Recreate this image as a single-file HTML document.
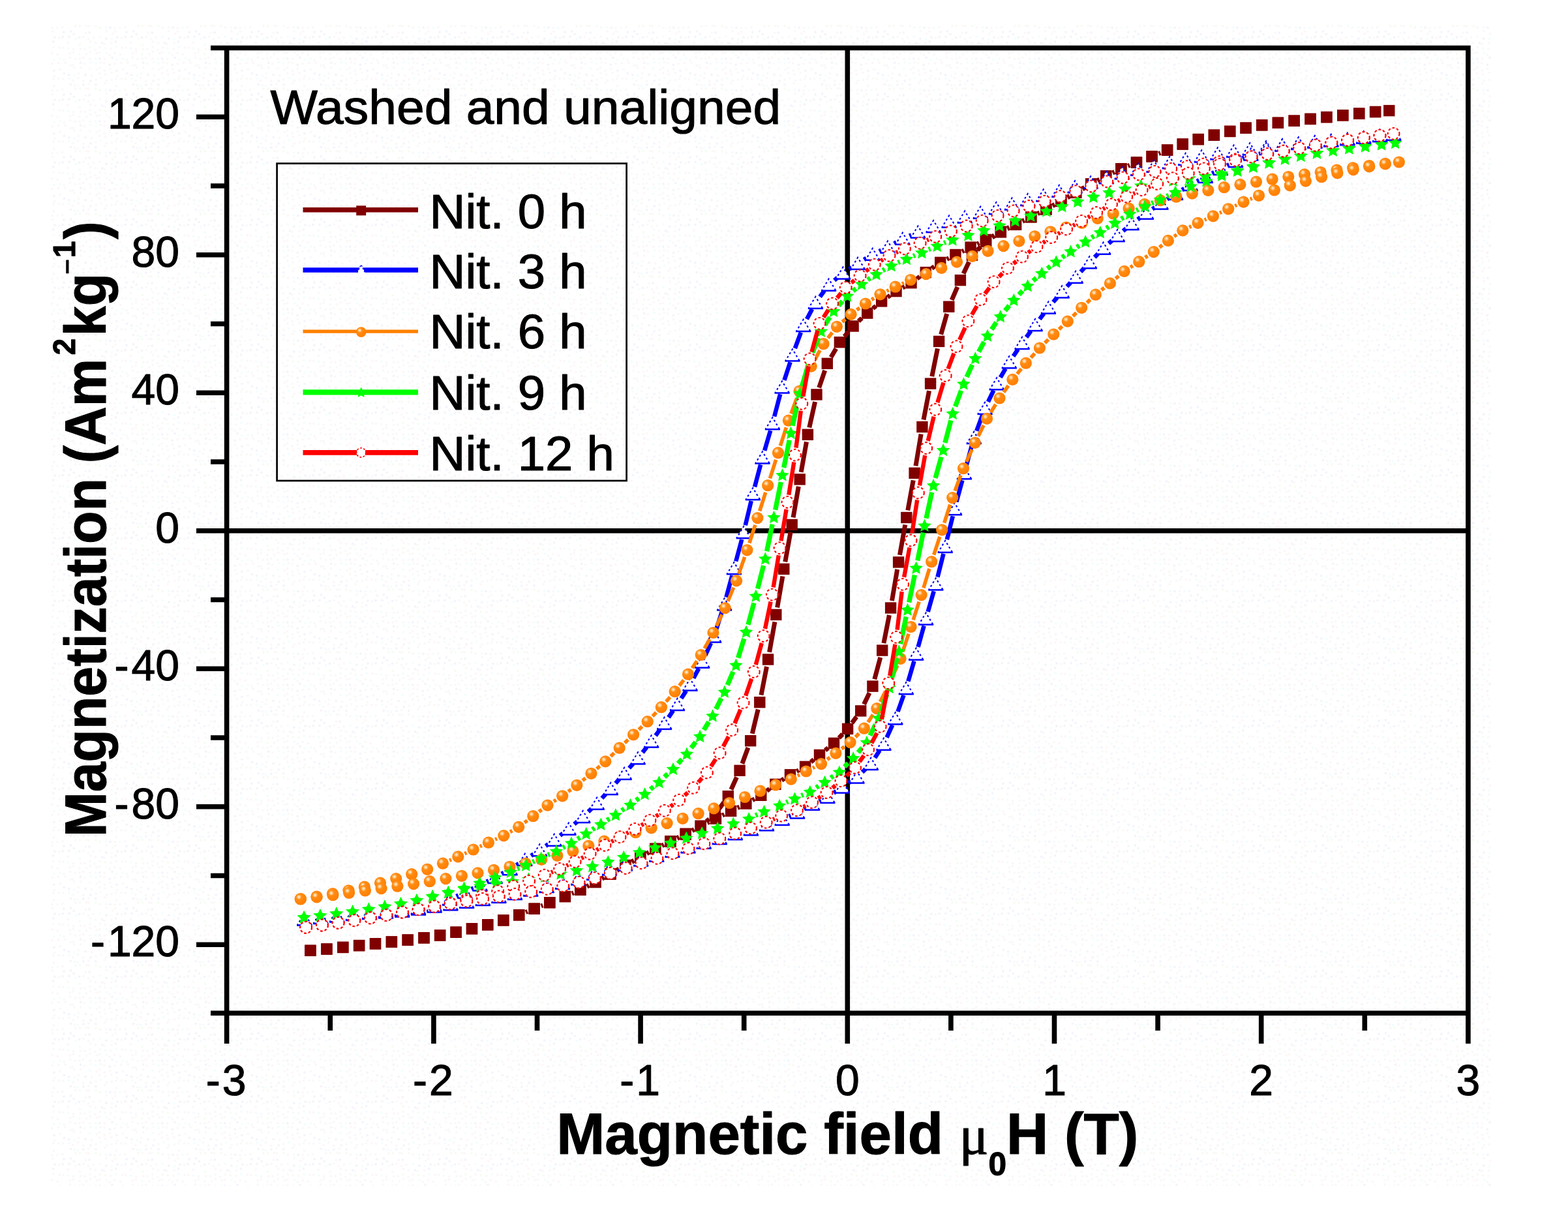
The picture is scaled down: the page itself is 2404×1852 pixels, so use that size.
<!DOCTYPE html>
<html lang="en"><head><meta charset="utf-8"><title>Washed and unaligned - magnetization hysteresis</title>
<style>html,body{margin:0;padding:0;background:#fff}body{width:2404px;height:1852px;overflow:hidden}svg{display:block}text{font-family:"Liberation Sans",sans-serif;fill:#000;stroke:#000;stroke-width:1.1px;stroke-linejoin:round}#plot{filter:blur(0.7px)}.b{font-weight:bold}.sy{font-family:"Liberation Serif",serif;font-weight:normal}</style></head><body>
<svg width="2404" height="1852" viewBox="0 0 2404 1852">
<defs>
<pattern id="dither" x="78" y="38" width="96" height="96" patternUnits="userSpaceOnUse"><g opacity=".3"><circle cx="2.2" cy="4.8" r="1.9" fill="#f0e6e6"/><circle cx="9.9" cy="4.4" r="1.9" fill="#d6f7f7"/><circle cx="17.8" cy="3.6" r="1.9" fill="#f0e6e6"/><circle cx="37.7" cy="2.0" r="1.9" fill="#f0e6e6"/><circle cx="44.4" cy="1.7" r="1.9" fill="#d9f9d0"/><circle cx="54.5" cy="1.6" r="1.9" fill="#f0e6e6"/><circle cx="58.2" cy="2.0" r="1.9" fill="#f0e6e6"/><circle cx="68.9" cy="1.9" r="1.9" fill="#d9f9d0"/><circle cx="75.3" cy="4.2" r="1.9" fill="#f0e6e6"/><circle cx="84.6" cy="4.0" r="1.9" fill="#d6f7f7"/><circle cx="91.0" cy="4.4" r="1.9" fill="#d9d9f5"/><circle cx="2.7" cy="10.3" r="1.9" fill="#f0e6e6"/><circle cx="20.0" cy="11.2" r="1.9" fill="#d9d9f5"/><circle cx="30.5" cy="10.0" r="1.9" fill="#d9d9f5"/><circle cx="35.2" cy="14.3" r="1.9" fill="#d9d9f5"/><circle cx="53.4" cy="12.4" r="1.9" fill="#f0e6e6"/><circle cx="59.2" cy="12.0" r="1.9" fill="#d9d9f5"/><circle cx="85.0" cy="9.7" r="1.9" fill="#f0e6e6"/><circle cx="94.6" cy="13.7" r="1.9" fill="#f0e6e6"/><circle cx="6.0" cy="19.2" r="1.9" fill="#d9d9f5"/><circle cx="12.6" cy="20.0" r="1.9" fill="#f0e6e6"/><circle cx="18.1" cy="18.7" r="1.9" fill="#d9d9f5"/><circle cx="28.0" cy="18.3" r="1.9" fill="#d9d9f5"/><circle cx="38.0" cy="21.7" r="1.9" fill="#d6f7f7"/><circle cx="43.6" cy="19.3" r="1.9" fill="#d9d9f5"/><circle cx="50.2" cy="18.3" r="1.9" fill="#f0e6e6"/><circle cx="57.5" cy="21.7" r="1.9" fill="#f0e6e6"/><circle cx="65.4" cy="19.6" r="1.9" fill="#f0e6e6"/><circle cx="75.1" cy="18.1" r="1.9" fill="#d6f7f7"/><circle cx="84.8" cy="21.2" r="1.9" fill="#d9d9f5"/><circle cx="93.5" cy="21.9" r="1.9" fill="#d6f7f7"/><circle cx="3.5" cy="25.9" r="1.9" fill="#d9d9f5"/><circle cx="26.2" cy="27.2" r="1.9" fill="#f0e6e6"/><circle cx="44.2" cy="30.3" r="1.9" fill="#d9f9d0"/><circle cx="60.6" cy="26.2" r="1.9" fill="#f0e6e6"/><circle cx="68.5" cy="27.9" r="1.9" fill="#f0e6e6"/><circle cx="78.6" cy="27.8" r="1.9" fill="#d9d9f5"/><circle cx="82.1" cy="29.3" r="1.9" fill="#f0e6e6"/><circle cx="93.0" cy="28.1" r="1.9" fill="#f0e6e6"/><circle cx="4.1" cy="34.2" r="1.9" fill="#d6f7f7"/><circle cx="13.3" cy="35.0" r="1.9" fill="#f0e6e6"/><circle cx="18.8" cy="35.3" r="1.9" fill="#f0e6e6"/><circle cx="26.6" cy="36.2" r="1.9" fill="#d6f7f7"/><circle cx="34.6" cy="37.6" r="1.9" fill="#f0e6e6"/><circle cx="45.7" cy="37.2" r="1.9" fill="#f0e6e6"/><circle cx="52.0" cy="37.2" r="1.9" fill="#f0e6e6"/><circle cx="59.9" cy="34.4" r="1.9" fill="#d9f9d0"/><circle cx="67.7" cy="38.3" r="1.9" fill="#f0e6e6"/><circle cx="75.3" cy="34.5" r="1.9" fill="#f0e6e6"/><circle cx="83.2" cy="35.9" r="1.9" fill="#d9f9d0"/><circle cx="91.9" cy="36.8" r="1.9" fill="#f0e6e6"/><circle cx="2.0" cy="43.4" r="1.9" fill="#f0e6e6"/><circle cx="10.3" cy="45.5" r="1.9" fill="#f0e6e6"/><circle cx="29.2" cy="43.8" r="1.9" fill="#f0e6e6"/><circle cx="34.3" cy="42.1" r="1.9" fill="#f0e6e6"/><circle cx="43.8" cy="44.8" r="1.9" fill="#d9f9d0"/><circle cx="54.5" cy="44.8" r="1.9" fill="#f0e6e6"/><circle cx="60.3" cy="41.5" r="1.9" fill="#f0e6e6"/><circle cx="70.3" cy="43.7" r="1.9" fill="#f0e6e6"/><circle cx="74.5" cy="42.7" r="1.9" fill="#f0e6e6"/><circle cx="85.4" cy="43.1" r="1.9" fill="#d6f7f7"/><circle cx="90.1" cy="46.1" r="1.9" fill="#f0e6e6"/><circle cx="4.8" cy="53.6" r="1.9" fill="#d6f7f7"/><circle cx="14.2" cy="52.0" r="1.9" fill="#d6f7f7"/><circle cx="20.1" cy="53.9" r="1.9" fill="#f0e6e6"/><circle cx="29.4" cy="50.2" r="1.9" fill="#f0e6e6"/><circle cx="37.2" cy="52.3" r="1.9" fill="#f0e6e6"/><circle cx="44.2" cy="51.9" r="1.9" fill="#f0e6e6"/><circle cx="49.7" cy="50.4" r="1.9" fill="#f0e6e6"/><circle cx="60.0" cy="52.3" r="1.9" fill="#f0e6e6"/><circle cx="68.6" cy="52.0" r="1.9" fill="#d6f7f7"/><circle cx="74.8" cy="52.0" r="1.9" fill="#d9d9f5"/><circle cx="82.7" cy="52.1" r="1.9" fill="#f0e6e6"/><circle cx="94.0" cy="50.5" r="1.9" fill="#d9d9f5"/><circle cx="2.0" cy="59.7" r="1.9" fill="#f0e6e6"/><circle cx="11.6" cy="58.5" r="1.9" fill="#f0e6e6"/><circle cx="22.1" cy="58.2" r="1.9" fill="#f0e6e6"/><circle cx="30.0" cy="62.4" r="1.9" fill="#f0e6e6"/><circle cx="33.9" cy="62.0" r="1.9" fill="#f0e6e6"/><circle cx="45.7" cy="58.2" r="1.9" fill="#d9d9f5"/><circle cx="51.5" cy="59.6" r="1.9" fill="#f0e6e6"/><circle cx="61.2" cy="57.5" r="1.9" fill="#d6f7f7"/><circle cx="69.1" cy="59.4" r="1.9" fill="#d6f7f7"/><circle cx="76.1" cy="57.7" r="1.9" fill="#f0e6e6"/><circle cx="81.9" cy="58.8" r="1.9" fill="#f0e6e6"/><circle cx="90.3" cy="61.3" r="1.9" fill="#d9d9f5"/><circle cx="4.9" cy="70.3" r="1.9" fill="#d9d9f5"/><circle cx="14.2" cy="68.4" r="1.9" fill="#f0e6e6"/><circle cx="35.6" cy="65.8" r="1.9" fill="#f0e6e6"/><circle cx="45.6" cy="65.8" r="1.9" fill="#f0e6e6"/><circle cx="59.8" cy="67.2" r="1.9" fill="#d6f7f7"/><circle cx="70.2" cy="68.6" r="1.9" fill="#f0e6e6"/><circle cx="74.6" cy="66.0" r="1.9" fill="#f0e6e6"/><circle cx="82.3" cy="70.2" r="1.9" fill="#f0e6e6"/><circle cx="90.5" cy="67.7" r="1.9" fill="#f0e6e6"/><circle cx="5.6" cy="78.6" r="1.9" fill="#f0e6e6"/><circle cx="20.3" cy="74.4" r="1.9" fill="#d9d9f5"/><circle cx="27.7" cy="76.8" r="1.9" fill="#d9d9f5"/><circle cx="36.2" cy="78.0" r="1.9" fill="#d6f7f7"/><circle cx="42.5" cy="74.6" r="1.9" fill="#f0e6e6"/><circle cx="53.1" cy="76.7" r="1.9" fill="#d9d9f5"/><circle cx="62.5" cy="77.8" r="1.9" fill="#f0e6e6"/><circle cx="74.7" cy="74.2" r="1.9" fill="#f0e6e6"/><circle cx="83.4" cy="76.0" r="1.9" fill="#f0e6e6"/><circle cx="93.0" cy="73.6" r="1.9" fill="#f0e6e6"/><circle cx="3.7" cy="82.8" r="1.9" fill="#f0e6e6"/><circle cx="12.2" cy="82.7" r="1.9" fill="#f0e6e6"/><circle cx="18.4" cy="83.1" r="1.9" fill="#f0e6e6"/><circle cx="28.0" cy="82.4" r="1.9" fill="#d6f7f7"/><circle cx="33.9" cy="85.6" r="1.9" fill="#f0e6e6"/><circle cx="41.6" cy="81.5" r="1.9" fill="#f0e6e6"/><circle cx="49.8" cy="86.4" r="1.9" fill="#f0e6e6"/><circle cx="61.1" cy="86.0" r="1.9" fill="#d9d9f5"/><circle cx="69.1" cy="84.0" r="1.9" fill="#f0e6e6"/><circle cx="76.7" cy="81.6" r="1.9" fill="#d6f7f7"/><circle cx="85.2" cy="85.6" r="1.9" fill="#f0e6e6"/><circle cx="93.3" cy="84.4" r="1.9" fill="#f0e6e6"/><circle cx="4.4" cy="94.0" r="1.9" fill="#f0e6e6"/><circle cx="30.4" cy="91.4" r="1.9" fill="#d9d9f5"/><circle cx="36.7" cy="92.7" r="1.9" fill="#f0e6e6"/><circle cx="41.4" cy="93.5" r="1.9" fill="#d6f7f7"/><circle cx="49.9" cy="92.1" r="1.9" fill="#d9d9f5"/><circle cx="57.8" cy="90.8" r="1.9" fill="#f0e6e6"/><circle cx="68.8" cy="91.8" r="1.9" fill="#d9d9f5"/><circle cx="82.9" cy="89.6" r="1.9" fill="#f0e6e6"/></g></pattern>
<radialGradient id="gball" cx="0.36" cy="0.33" r="0.6" fx="0.36" fy="0.33"><stop offset="0" stop-color="#fff3e2"/><stop offset="0.14" stop-color="#ffd49c"/><stop offset="0.38" stop-color="#ff8c14"/><stop offset="1" stop-color="#ff8000"/></radialGradient>
<rect id="m-sq" x="-8.7" y="-8.7" width="17.4" height="17.4" fill="#800000"/>
<g id="m-tri"><polygon points="0,-9.6 11.4,9.2 -11.4,9.2" fill="#fff"/><path d="M-10.6 8.4L0 -9.2L10.6 8.4" fill="none" stroke="#0000ff" stroke-width="2.1" stroke-dasharray="3 3.6" stroke-dashoffset="1.5"/><path d="M-11.6 8.9H11.6" stroke="#0000ff" stroke-width="2.5" fill="none"/></g>
<circle id="m-ball" r="9.1" fill="url(#gball)"/>
<polygon id="m-star" points="0,-10 3.1,-3.4 10.3,-2.5 4.9,2.4 6.3,9.5 0,6 -6.3,9.5 -4.9,2.4 -10.3,-2.5 -3.1,-3.4" fill="#00ff00"/>
<circle id="m-circ" r="8.9" fill="#fff" stroke="#ff0000" stroke-width="2.1" stroke-dasharray="3.6 3.0"/>
</defs>
<rect x="0" y="0" width="2404" height="1852" fill="#fff"/>
<rect x="78" y="38" width="2208" height="1780" fill="url(#dither)"/>
<g id="plot">
<g id="axes" stroke="#000" stroke-width="7.6" fill="none" stroke-linecap="butt">
<path d="M323 73.5H2254.7000000000003 M323 1553.2H2254.7000000000003 M347.6 69.7V1600 M2250.9 69.7V1600"/>
<path d="M347.6 813.8H2250.9 M1299.3 73.5V1553.2"/>
<path d="M301 1448.3H347.6M323 1342.5H347.6M301 1236.8H347.6M323 1131H347.6M301 1025.3H347.6M323 919.5H347.6M301 813.8H347.6M323 708H347.6M301 602.3H347.6M323 496.5H347.6M301 390.8H347.6M323 285H347.6M301 179.3H347.6M506.3 1553.2V1580M664.9 1553.2V1600M823.5 1553.2V1580M982.1 1553.2V1600M1140.7 1553.2V1580M1299.3 1553.2V1600M1457.9 1553.2V1580M1616.5 1553.2V1600M1775.1 1553.2V1580M1933.7 1553.2V1600M2092.3 1553.2V1580"/>
</g>
<g id="ylabels" font-size="66" text-anchor="end">
<text x="275" y="1466.3" dx="0 4">-120</text>
<text x="275" y="1254.8" dx="0 4">-80</text>
<text x="275" y="1043.3" dx="0 4">-40</text>
<text x="275" y="831.8">0</text>
<text x="275" y="620.3">40</text>
<text x="275" y="408.8">80</text>
<text x="275" y="197.3">120</text>
</g>
<g id="xlabels" font-size="66" text-anchor="middle">
<text x="346.7" y="1679" dx="0 3">-3</text>
<text x="663.9" y="1679" dx="0 3">-2</text>
<text x="981.1" y="1679" dx="0 3">-1</text>
<text x="1299.3" y="1679">0</text>
<text x="1616.5" y="1679">1</text>
<text x="1933.7" y="1679">2</text>
<text x="2250.9" y="1679">3</text>
</g>
<text id="xtitle" class="b" transform="translate(853.3 1769) scale(0.9934 1)" font-size="89.5">Magnetic field <tspan class="sy" font-size="84">μ</tspan><tspan font-size="50" dy="33">0</tspan><tspan dy="-33">H (T)</tspan></text>
<text id="ytitle" class="b" font-size="88.5" transform="translate(161.8 1283) rotate(-90) scale(0.932 1)">Magnetization (Am<tspan font-size="49" dy="-46.5" dx="6">2</tspan><tspan dy="46.5" dx="4">kg</tspan><tspan font-size="44" dy="-44" dx="-2" style="font-weight:normal">−</tspan><tspan font-size="49" dy="-2.5" dx="2">1</tspan><tspan dy="46.5" dx="3">)</tspan></text>
<text id="caption" transform="translate(414.5 190.3) scale(1.024 1)" font-size="75">Washed and unaligned</text>
<g id="data">
<g id="s0">
<path d="M1779.3 234.4L1776.5 235.6M1732.1 253.3L1729.3 254.5M1708.9 263.6L1705.8 265.1M1685.8 275.3L1682.5 277.1M1663 287.9L1659.5 289.9M1640.1 301L1636.6 302.9M1617.1 313.8L1613.7 315.6M1593.9 326.1L1590.7 327.7M1570.8 337.8L1567.6 339.4M1547.6 349.4L1544.4 350.9M1524.4 360.9L1521.3 362.4M1501.2 372.5L1498.1 374.1M1478 384.1L1474.9 385.6M1454.9 395.6L1451.7 397.3M1432.5 408.7L1428.5 411.3M1410.2 424.2L1406 427.1M1387.2 439.2L1383.8 441.1M1364.8 452.9L1360.8 455.6M1343 469.1L1338.3 472.9M1321.4 487.7L1316.3 492.4M1300.9 508.6L1294.6 516.1M1281.8 534.4L1274 547.7M1264.7 567.9L1255.7 594.3M1249.6 615.9L1240.8 655.4M1236.5 677.3L1228.2 723.9M1224.3 745.9L1216.1 793.4M1212.1 815.5L1203.8 861.4M1199.9 883.5L1191.7 931.4M1187.9 953.4L1179.6 999.9M1175.5 1022L1167 1065.7M1162.2 1087.6L1153.3 1124.8M1146.9 1146.2L1137.9 1170.8M1129.5 1191.5L1120.9 1210.5M1109.8 1229.9L1102.8 1239.8M1087.5 1255.8L1083 1259.3M1064.5 1271.8L1061 1273.8M1041.2 1284.1L1038.2 1285.5M1017.9 1295L1014.9 1296.5M995 1306.7L991.6 1308.6M972.1 1319.6L968.6 1321.6M949.2 1332.7L945.8 1334.7M926.2 1345.5L922.9 1347.3M903 1357.6L899.8 1359.2M879.6 1368.7L876.7 1370M832.4 1387.9L829.6 1389M808.8 1397.4L806 1398.6M806 1398.6L808.8 1397.4M829.6 1389L832.4 1387.9M876.7 1370L879.6 1368.7M899.8 1359L903 1357.4M922.7 1346.9L926.1 1345M945.6 1334L949.1 1332M968.5 1321L971.9 1319.1M991.6 1308.4L994.9 1306.7M1014.8 1296.4L1017.9 1294.8M1037.9 1284.7L1041.1 1283.2M1061.1 1273.2L1064.3 1271.7M1084.3 1261.7L1087.5 1260.1M1107.5 1250.1L1110.6 1248.5M1130.7 1238.5L1133.8 1237M1153.6 1226.7L1157 1224.8M1175.7 1212.5L1180 1209.2M1198.4 1196.3L1202.1 1193.9M1221.4 1182.5L1224.7 1180.7M1243.2 1168.3L1247.8 1164.5M1265.2 1150.3L1269.8 1146.5M1286.2 1131.4L1291.9 1125.5M1306.2 1108.4L1313.1 1099M1324.6 1079.8L1333 1062.2M1340.8 1041.3L1349.8 1007.9M1354.9 986.1L1363.4 943M1367.5 921L1375.7 872.9M1379.5 850.8L1387.8 804.5M1391.8 782.4L1400.2 736.4M1404 714.3L1412.1 665.5M1416 643.5L1424.5 599.1M1428.8 577.1L1437.4 534.4M1442.7 512.7L1451.7 481M1459.2 459.9L1467.9 439.9M1477.1 419.5L1485.6 401.4M1498.4 383.4L1503.8 378.3M1521.1 364.2L1525 361.5M1544.2 350.1L1547.4 348.5M1567.6 338.7L1570.6 337.4M1590.7 327.6L1593.9 326M1613.6 315.4L1617.1 313.4M1636.5 302.2L1639.9 300.3M1659.4 289.2L1662.8 287.4M1682.5 276.7L1685.8 275M1705.8 265L1708.8 263.5M1729.3 254.5L1732.1 253.3M1776.5 235.6L1779.3 234.4" stroke="#800000" stroke-width="7.0" fill="none"/>
<use href="#m-sq" x="2129.8" y="169.6"/><use href="#m-sq" x="2108.6" y="171.5"/><use href="#m-sq" x="2083.7" y="174.1"/><use href="#m-sq" x="2058.8" y="176.8"/><use href="#m-sq" x="2033.9" y="179.6"/><use href="#m-sq" x="2009.1" y="182.4"/><use href="#m-sq" x="1984.2" y="185.2"/><use href="#m-sq" x="1959.4" y="188.3"/><use href="#m-sq" x="1934.7" y="191.8"/><use href="#m-sq" x="1910.1" y="196.2"/><use href="#m-sq" x="1885.7" y="201.4"/><use href="#m-sq" x="1861.4" y="207.2"/><use href="#m-sq" x="1837.3" y="213.6"/><use href="#m-sq" x="1813.3" y="221"/><use href="#m-sq" x="1789.6" y="230.1"/><use href="#m-sq" x="1766.1" y="239.9"/><use href="#m-sq" x="1742.5" y="249.1"/><use href="#m-sq" x="1718.9" y="258.7"/><use href="#m-sq" x="1695.7" y="270"/><use href="#m-sq" x="1672.7" y="282.4"/><use href="#m-sq" x="1649.8" y="295.4"/><use href="#m-sq" x="1626.9" y="308.5"/><use href="#m-sq" x="1603.9" y="321"/><use href="#m-sq" x="1580.8" y="332.8"/><use href="#m-sq" x="1557.6" y="344.4"/><use href="#m-sq" x="1534.4" y="355.9"/><use href="#m-sq" x="1511.2" y="367.4"/><use href="#m-sq" x="1488.1" y="379.1"/><use href="#m-sq" x="1464.9" y="390.5"/><use href="#m-sq" x="1441.7" y="402.4"/><use href="#m-sq" x="1419.3" y="417.6"/><use href="#m-sq" x="1397" y="433.7"/><use href="#m-sq" x="1374" y="446.6"/><use href="#m-sq" x="1351.6" y="461.9"/><use href="#m-sq" x="1329.7" y="480.1"/><use href="#m-sq" x="1308.1" y="500"/><use href="#m-sq" x="1287.4" y="524.7"/><use href="#m-sq" x="1268.3" y="557.3"/><use href="#m-sq" x="1252" y="604.9"/><use href="#m-sq" x="1238.4" y="666.3"/><use href="#m-sq" x="1226.2" y="734.9"/><use href="#m-sq" x="1214.2" y="804.5"/><use href="#m-sq" x="1201.8" y="872.4"/><use href="#m-sq" x="1189.8" y="942.4"/><use href="#m-sq" x="1177.6" y="1011"/><use href="#m-sq" x="1164.8" y="1076.7"/><use href="#m-sq" x="1150.7" y="1135.7"/><use href="#m-sq" x="1134.1" y="1181.3"/><use href="#m-sq" x="1116.3" y="1220.7"/><use href="#m-sq" x="1096.3" y="1248.9"/><use href="#m-sq" x="1074.2" y="1266.2"/><use href="#m-sq" x="1051.3" y="1279.4"/><use href="#m-sq" x="1028" y="1290.2"/><use href="#m-sq" x="1004.7" y="1301.2"/><use href="#m-sq" x="981.8" y="1314.1"/><use href="#m-sq" x="958.9" y="1327.2"/><use href="#m-sq" x="936" y="1340.2"/><use href="#m-sq" x="913" y="1352.6"/><use href="#m-sq" x="889.8" y="1364.2"/><use href="#m-sq" x="866.4" y="1374.5"/><use href="#m-sq" x="842.8" y="1383.7"/><use href="#m-sq" x="819.2" y="1393.2"/><use href="#m-sq" x="795.7" y="1402.8"/><use href="#m-sq" x="771.8" y="1410.9"/><use href="#m-sq" x="747.7" y="1417.8"/><use href="#m-sq" x="723.5" y="1423.8"/><use href="#m-sq" x="699.1" y="1429.2"/><use href="#m-sq" x="674.6" y="1434"/><use href="#m-sq" x="650" y="1437.8"/><use href="#m-sq" x="625.2" y="1441.1"/><use href="#m-sq" x="600.4" y="1444"/><use href="#m-sq" x="575.5" y="1446.8"/><use href="#m-sq" x="550.6" y="1449.6"/><use href="#m-sq" x="525.8" y="1452.4"/><use href="#m-sq" x="500.9" y="1455"/><use href="#m-sq" x="475.9" y="1457.3"/><use href="#m-sq" x="475.9" y="1457.3"/><use href="#m-sq" x="500.9" y="1455"/><use href="#m-sq" x="525.8" y="1452.4"/><use href="#m-sq" x="550.6" y="1449.6"/><use href="#m-sq" x="575.5" y="1446.8"/><use href="#m-sq" x="600.4" y="1444"/><use href="#m-sq" x="625.2" y="1441.1"/><use href="#m-sq" x="650" y="1437.8"/><use href="#m-sq" x="674.6" y="1434"/><use href="#m-sq" x="699.1" y="1429.2"/><use href="#m-sq" x="723.5" y="1423.8"/><use href="#m-sq" x="747.7" y="1417.8"/><use href="#m-sq" x="771.8" y="1410.9"/><use href="#m-sq" x="795.7" y="1402.8"/><use href="#m-sq" x="819.2" y="1393.2"/><use href="#m-sq" x="842.8" y="1383.7"/><use href="#m-sq" x="866.4" y="1374.5"/><use href="#m-sq" x="889.8" y="1364.2"/><use href="#m-sq" x="912.9" y="1352.3"/><use href="#m-sq" x="935.9" y="1339.6"/><use href="#m-sq" x="958.8" y="1326.5"/><use href="#m-sq" x="981.7" y="1313.6"/><use href="#m-sq" x="1004.8" y="1301.4"/><use href="#m-sq" x="1027.9" y="1289.7"/><use href="#m-sq" x="1051.1" y="1278.2"/><use href="#m-sq" x="1074.3" y="1266.7"/><use href="#m-sq" x="1097.5" y="1255.1"/><use href="#m-sq" x="1120.6" y="1243.4"/><use href="#m-sq" x="1143.9" y="1232.1"/><use href="#m-sq" x="1166.8" y="1219.3"/><use href="#m-sq" x="1188.9" y="1202.4"/><use href="#m-sq" x="1211.5" y="1187.8"/><use href="#m-sq" x="1234.6" y="1175.4"/><use href="#m-sq" x="1256.5" y="1157.5"/><use href="#m-sq" x="1278.5" y="1139.4"/><use href="#m-sq" x="1299.6" y="1117.4"/><use href="#m-sq" x="1319.7" y="1089.9"/><use href="#m-sq" x="1337.9" y="1052.1"/><use href="#m-sq" x="1352.7" y="997.1"/><use href="#m-sq" x="1365.6" y="932"/><use href="#m-sq" x="1377.6" y="861.9"/><use href="#m-sq" x="1389.8" y="793.5"/><use href="#m-sq" x="1402.1" y="725.3"/><use href="#m-sq" x="1413.9" y="654.5"/><use href="#m-sq" x="1426.6" y="588.1"/><use href="#m-sq" x="1439.6" y="523.4"/><use href="#m-sq" x="1454.8" y="470.2"/><use href="#m-sq" x="1472.4" y="429.6"/><use href="#m-sq" x="1490.4" y="391.2"/><use href="#m-sq" x="1511.8" y="370.5"/><use href="#m-sq" x="1534.3" y="355.2"/><use href="#m-sq" x="1557.4" y="343.4"/><use href="#m-sq" x="1580.8" y="332.7"/><use href="#m-sq" x="1603.9" y="321"/><use href="#m-sq" x="1626.8" y="307.8"/><use href="#m-sq" x="1649.6" y="294.7"/><use href="#m-sq" x="1672.6" y="281.9"/><use href="#m-sq" x="1695.7" y="269.8"/><use href="#m-sq" x="1718.9" y="258.7"/><use href="#m-sq" x="1742.5" y="249.1"/><use href="#m-sq" x="1766.1" y="239.9"/><use href="#m-sq" x="1789.6" y="230.1"/><use href="#m-sq" x="1813.3" y="221"/><use href="#m-sq" x="1837.3" y="213.6"/><use href="#m-sq" x="1861.4" y="207.2"/><use href="#m-sq" x="1885.7" y="201.4"/><use href="#m-sq" x="1910.1" y="196.2"/><use href="#m-sq" x="1934.7" y="191.8"/><use href="#m-sq" x="1959.4" y="188.3"/><use href="#m-sq" x="1984.2" y="185.2"/><use href="#m-sq" x="2009.1" y="182.4"/><use href="#m-sq" x="2033.9" y="179.6"/><use href="#m-sq" x="2058.8" y="176.8"/><use href="#m-sq" x="2083.7" y="174.1"/><use href="#m-sq" x="2108.6" y="171.5"/>
</g>
<g id="s3">
<path d="M1397.1 360.2L1394.2 361.5M1374.2 371.4L1370.8 373.3M1350.9 383.6L1347.9 385.1M1328.2 395.8L1324.6 398.1M1305.7 410.1L1301.9 412.5M1283.9 425.8L1279.2 429.7M1263.9 445.8L1257.1 455M1245.1 473.9L1237 489.2M1227.9 509.6L1218.9 534M1211.6 555.1L1202.5 582.9M1196.2 604.4L1187.2 638.5M1181.2 660.1L1172.2 690.8M1166.1 712.4L1157.1 746.4M1151.7 768.1L1142.8 805.3M1137.3 827L1128.3 860.5M1122.5 882.2L1113.5 915.7M1107.1 937.1L1098.1 965M1090 985.9L1081.4 1004.7M1071.4 1024.7L1063.3 1039.8M1052 1059.1L1044.5 1070.7M1032.1 1089.3L1025 1099.8M1012.1 1118.1L1005.1 1127.7M991.6 1145.5L985.1 1153.6M970.7 1170.8L964.6 1177.6M949.7 1194.3L943.8 1200.9M928.7 1217.4L922.8 1223.7M907.1 1239.6L901.9 1244.5M885.2 1259.5L880.4 1263.6M863 1277.7L858.7 1281M840.6 1294.2L836.6 1297M818 1309.5L814.2 1312M795.3 1324.1L791.6 1326.4M772.3 1337.8L769 1339.7M749.1 1350.1L746 1351.6M725.9 1361.5L722.8 1363.1M702.6 1372.6L699.6 1374M1209.5 1251.4L1212.4 1250.2M1232.4 1240.2L1235.8 1238.3M1255.7 1228.1L1258.7 1226.7M1278.2 1215.7L1282.1 1213M1300.7 1200.5L1304.6 1197.8M1322 1183.9L1327.2 1178.9M1341.4 1161.7L1348.8 1150.3M1359.6 1130.7L1368.2 1111.7M1376.5 1091L1385.5 1065.8M1392.4 1044.5L1401.5 1013.5M1407.6 991.9L1416.6 959.4M1422.7 937.9L1431.7 906.3M1437.5 884.6L1446.5 848.9M1451.9 827.1L1460.8 791.2M1466.4 769.5L1475.4 736.3M1481.3 714.6L1490.3 681.9M1497.2 660.6L1506.2 636.5M1514.9 616L1523.4 598.5M1533.8 578.7L1541.7 565.1M1553.6 546.1L1560.8 535.4M1573.6 517L1580.6 507.3M1593.9 489.3L1600.6 480.6M1614.7 463.2L1620.9 456M1635.8 439.3L1641.6 433.1M1656.9 416.7L1662.7 410.6M1678.2 394.4L1683.7 388.7M1699.9 373.2L1704.9 368.7M1721.9 354.1L1726.5 350.3M1744.2 336.5L1748.4 333.4M1766.7 320.5L1770.6 317.9M1789.3 305.6L1793.1 303.1M1812.1 291.2L1815.7 289.1M1835.1 278L1838.4 276.3M1858.2 265.8L1861.5 264.2M1881.4 253.9L1884.5 252.3M1904.7 242.6L1907.7 241.3" stroke="#0000ff" stroke-width="6.6" fill="none"/>
<use href="#m-tri" x="2136.8" y="206"/><use href="#m-tri" x="2115.6" y="208.1"/><use href="#m-tri" x="2090.7" y="210.7"/><use href="#m-tri" x="2065.8" y="213.2"/><use href="#m-tri" x="2040.8" y="215.5"/><use href="#m-tri" x="2015.9" y="217.8"/><use href="#m-tri" x="1990.9" y="220.1"/><use href="#m-tri" x="1966" y="222.6"/><use href="#m-tri" x="1941.1" y="225.4"/><use href="#m-tri" x="1916.3" y="228.4"/><use href="#m-tri" x="1891.6" y="231.8"/><use href="#m-tri" x="1866.9" y="235.5"/><use href="#m-tri" x="1842.3" y="239.6"/><use href="#m-tri" x="1817.7" y="244.1"/><use href="#m-tri" x="1793.3" y="249.3"/><use href="#m-tri" x="1769" y="254.9"/><use href="#m-tri" x="1744.6" y="259.9"/><use href="#m-tri" x="1720.2" y="265.4"/><use href="#m-tri" x="1696.2" y="272.3"/><use href="#m-tri" x="1672.2" y="279.6"/><use href="#m-tri" x="1648.1" y="286.4"/><use href="#m-tri" x="1623.9" y="293"/><use href="#m-tri" x="1599.8" y="299.6"/><use href="#m-tri" x="1575.7" y="306.2"/><use href="#m-tri" x="1551.5" y="312.7"/><use href="#m-tri" x="1527.4" y="319.3"/><use href="#m-tri" x="1503.3" y="325.9"/><use href="#m-tri" x="1479.2" y="332.7"/><use href="#m-tri" x="1455.1" y="339.7"/><use href="#m-tri" x="1431.1" y="347.2"/><use href="#m-tri" x="1407.4" y="355.7"/><use href="#m-tri" x="1383.9" y="365.9"/><use href="#m-tri" x="1361" y="378.8"/><use href="#m-tri" x="1337.8" y="389.9"/><use href="#m-tri" x="1315.1" y="404"/><use href="#m-tri" x="1292.5" y="418.7"/><use href="#m-tri" x="1270.6" y="436.8"/><use href="#m-tri" x="1250.4" y="464"/><use href="#m-tri" x="1231.7" y="499.1"/><use href="#m-tri" x="1215" y="544.5"/><use href="#m-tri" x="1199.1" y="593.6"/><use href="#m-tri" x="1184.4" y="649.3"/><use href="#m-tri" x="1169" y="701.6"/><use href="#m-tri" x="1154.3" y="757.2"/><use href="#m-tri" x="1140.2" y="816.2"/><use href="#m-tri" x="1125.4" y="871.3"/><use href="#m-tri" x="1110.6" y="926.5"/><use href="#m-tri" x="1094.6" y="975.7"/><use href="#m-tri" x="1076.7" y="1014.8"/><use href="#m-tri" x="1058" y="1049.7"/><use href="#m-tri" x="1038.5" y="1080.1"/><use href="#m-tri" x="1018.6" y="1109"/><use href="#m-tri" x="998.6" y="1136.7"/><use href="#m-tri" x="978.1" y="1162.4"/><use href="#m-tri" x="957.2" y="1186"/><use href="#m-tri" x="936.3" y="1209.2"/><use href="#m-tri" x="915.2" y="1231.9"/><use href="#m-tri" x="893.7" y="1252.2"/><use href="#m-tri" x="871.9" y="1270.8"/><use href="#m-tri" x="849.8" y="1287.9"/><use href="#m-tri" x="827.4" y="1303.4"/><use href="#m-tri" x="804.8" y="1318.1"/><use href="#m-tri" x="782.1" y="1332.3"/><use href="#m-tri" x="759.2" y="1345.1"/><use href="#m-tri" x="736" y="1356.6"/><use href="#m-tri" x="712.8" y="1368"/><use href="#m-tri" x="689.4" y="1378.6"/><use href="#m-tri" x="665.7" y="1387.4"/><use href="#m-tri" x="641.5" y="1393.6"/><use href="#m-tri" x="616.7" y="1396.7"/><use href="#m-tri" x="591.6" y="1398.6"/><use href="#m-tri" x="566.5" y="1400"/><use href="#m-tri" x="541.5" y="1402"/><use href="#m-tri" x="516.6" y="1404.4"/><use href="#m-tri" x="491.7" y="1407"/><use href="#m-tri" x="466.8" y="1409.5"/><use href="#m-tri" x="466.8" y="1409.5"/><use href="#m-tri" x="491.7" y="1407"/><use href="#m-tri" x="516.6" y="1404.4"/><use href="#m-tri" x="541.5" y="1401.9"/><use href="#m-tri" x="566.5" y="1399.7"/><use href="#m-tri" x="591.4" y="1397.4"/><use href="#m-tri" x="616.4" y="1395"/><use href="#m-tri" x="641.3" y="1392.4"/><use href="#m-tri" x="666.1" y="1389.6"/><use href="#m-tri" x="690.9" y="1386.4"/><use href="#m-tri" x="715.6" y="1382.9"/><use href="#m-tri" x="740.3" y="1379.1"/><use href="#m-tri" x="764.9" y="1374.9"/><use href="#m-tri" x="789.4" y="1370.1"/><use href="#m-tri" x="813.7" y="1364.7"/><use href="#m-tri" x="838.1" y="1359.1"/><use href="#m-tri" x="862.4" y="1353.8"/><use href="#m-tri" x="886.6" y="1347.5"/><use href="#m-tri" x="910.6" y="1339.9"/><use href="#m-tri" x="934.5" y="1332.5"/><use href="#m-tri" x="958.6" y="1325.5"/><use href="#m-tri" x="982.7" y="1318.6"/><use href="#m-tri" x="1006.7" y="1311.7"/><use href="#m-tri" x="1030.9" y="1305"/><use href="#m-tri" x="1055" y="1298.4"/><use href="#m-tri" x="1079.1" y="1291.9"/><use href="#m-tri" x="1103.3" y="1285.2"/><use href="#m-tri" x="1127.3" y="1278.3"/><use href="#m-tri" x="1151.4" y="1271.5"/><use href="#m-tri" x="1175.5" y="1264.4"/><use href="#m-tri" x="1199.2" y="1256"/><use href="#m-tri" x="1222.6" y="1245.6"/><use href="#m-tri" x="1245.6" y="1232.8"/><use href="#m-tri" x="1268.9" y="1222"/><use href="#m-tri" x="1291.4" y="1206.7"/><use href="#m-tri" x="1313.9" y="1191.6"/><use href="#m-tri" x="1335.3" y="1171.1"/><use href="#m-tri" x="1354.9" y="1140.9"/><use href="#m-tri" x="1372.8" y="1101.5"/><use href="#m-tri" x="1389.3" y="1055.3"/><use href="#m-tri" x="1404.6" y="1002.7"/><use href="#m-tri" x="1419.6" y="948.7"/><use href="#m-tri" x="1434.8" y="895.5"/><use href="#m-tri" x="1449.2" y="838"/><use href="#m-tri" x="1463.5" y="780.3"/><use href="#m-tri" x="1478.4" y="725.4"/><use href="#m-tri" x="1493.3" y="671.1"/><use href="#m-tri" x="1510.1" y="626"/><use href="#m-tri" x="1528.2" y="588.4"/><use href="#m-tri" x="1547.3" y="555.4"/><use href="#m-tri" x="1567.1" y="526.1"/><use href="#m-tri" x="1587.1" y="498.2"/><use href="#m-tri" x="1607.4" y="471.7"/><use href="#m-tri" x="1628.2" y="447.5"/><use href="#m-tri" x="1649.2" y="424.9"/><use href="#m-tri" x="1670.3" y="402.4"/><use href="#m-tri" x="1691.6" y="380.8"/><use href="#m-tri" x="1713.2" y="361.2"/><use href="#m-tri" x="1735.1" y="343.2"/><use href="#m-tri" x="1757.4" y="326.8"/><use href="#m-tri" x="1779.9" y="311.7"/><use href="#m-tri" x="1802.5" y="297"/><use href="#m-tri" x="1825.2" y="283.2"/><use href="#m-tri" x="1848.3" y="271"/><use href="#m-tri" x="1871.4" y="259"/><use href="#m-tri" x="1894.5" y="247.2"/><use href="#m-tri" x="1917.9" y="236.7"/><use href="#m-tri" x="1941.6" y="228.1"/><use href="#m-tri" x="1966" y="222.6"/><use href="#m-tri" x="1990.8" y="219.5"/><use href="#m-tri" x="2015.8" y="217.2"/><use href="#m-tri" x="2040.8" y="215.3"/><use href="#m-tri" x="2065.8" y="213.2"/><use href="#m-tri" x="2090.7" y="210.7"/><use href="#m-tri" x="2115.6" y="208.1"/>
</g>
<g id="s6">
<path d="M1385.9 433.7L1382.9 435M1362.7 444.7L1359.5 446.3M1340 457.2L1336.3 459.5M1317.9 472.1L1313.6 475.3M1296.2 489.3L1291.3 493.5M1276 509.7L1269.4 518.3M1257.1 537L1249.1 551.8M1238.9 571.7L1230.4 589.6M1221.7 610.2L1212.8 634.2M1205.4 655.4L1196.4 683.5M1189.6 704.8L1180.5 733.5M1173.8 754.9L1164.7 783.4M1157.9 804.8L1148.9 832.7M1141.7 853.9L1132.7 879.9M1124.7 900.8L1116 921.8M1106.8 942.2L1098.4 959.9M1088.1 979.8L1080.1 994.2M1068.5 1013.3L1061.2 1024.3M1048.2 1042.6L1041.5 1051.3M1027.3 1068.7L1021.2 1075.8M1006.1 1092.3L1000.5 1098.1M984.5 1113.8L979.3 1118.6M963 1134L957.8 1139M941.6 1154.5L936.3 1159.6M919.7 1174.6L914.9 1178.6M897.7 1192.9L893.1 1196.7M875.4 1210.5L871.2 1213.6M852.7 1226.3L849 1228.6M830.6 1241.3L826.3 1244.5M808.4 1257.9L804.1 1261.2M785.4 1273.5L782 1275.5M762.1 1285.7L759.1 1287M738.8 1296.4L735.8 1297.8M715.4 1307.2L712.4 1308.6M692 1317.9L689.1 1319.2M1222.8 1189.4L1226 1187.7M1246 1177.6L1249.1 1176M1268.2 1164.4L1272.4 1161.4M1290.4 1148L1294.6 1144.8M1311.5 1130.1L1317 1124.6M1330.9 1107.2L1338.4 1095.6M1349.4 1076.1L1357.8 1059.5M1367.4 1039.3L1376 1020.1M1384 999.2L1393.1 971.6M1400.1 950.3L1409.1 922.7M1415.9 901.4L1424.9 871.9M1431.7 850.6L1440.8 822.9M1447.7 801.6L1456.7 773.7M1464.1 752.6L1473 728.7M1481.6 708L1490.2 689.1M1499.8 668.8L1508.1 651.9M1519 632.3L1526.6 620M1538.9 601.3L1546 591.1M1559.5 573.2L1565.9 565.3M1580.5 548.4L1586.4 541.8M1601.9 525.7L1607.3 520.4M1623.5 504.9L1628.6 500.2M1644.9 484.8L1650.2 479.6M1666.4 464.1L1671.6 459.4M1688.6 444.8L1693.1 441.3M1710.4 427.1L1715.2 423.1M1733.1 409.8L1736.9 407.3M1755.6 394.9L1759.5 392.3M1777.6 379.2L1782 375.8M1800.1 362.5L1804.1 359.8M1823.3 348.4L1826.5 346.8M1846.7 337.2L1849.6 335.9M1870 326.5L1873 325.1M1893.3 315.7L1896.3 314.3M1916.8 305.3L1919.7 304.1" stroke="#ff8000" stroke-width="5.6" fill="none"/>
<use href="#m-ball" x="2144.9" y="248.5"/><use href="#m-ball" x="2123.8" y="250.9"/><use href="#m-ball" x="2099" y="254"/><use href="#m-ball" x="2074.2" y="257.3"/><use href="#m-ball" x="2049.5" y="260.7"/><use href="#m-ball" x="2024.7" y="264"/><use href="#m-ball" x="2000" y="267.4"/><use href="#m-ball" x="1975.3" y="271"/><use href="#m-ball" x="1950.6" y="274.7"/><use href="#m-ball" x="1926" y="278.7"/><use href="#m-ball" x="1901.4" y="282.9"/><use href="#m-ball" x="1876.8" y="287.2"/><use href="#m-ball" x="1852.3" y="291.8"/><use href="#m-ball" x="1827.8" y="296.6"/><use href="#m-ball" x="1803.4" y="301.7"/><use href="#m-ball" x="1779" y="307.2"/><use href="#m-ball" x="1754.8" y="313.1"/><use href="#m-ball" x="1730.6" y="319.4"/><use href="#m-ball" x="1706.7" y="327.5"/><use href="#m-ball" x="1682.8" y="334.9"/><use href="#m-ball" x="1658.7" y="341.8"/><use href="#m-ball" x="1634.6" y="348.5"/><use href="#m-ball" x="1610.5" y="355.3"/><use href="#m-ball" x="1586.4" y="362.3"/><use href="#m-ball" x="1562.4" y="369.6"/><use href="#m-ball" x="1538.5" y="377.1"/><use href="#m-ball" x="1514.6" y="384.8"/><use href="#m-ball" x="1490.7" y="392.9"/><use href="#m-ball" x="1467" y="401.6"/><use href="#m-ball" x="1443.4" y="410.9"/><use href="#m-ball" x="1419.8" y="420.1"/><use href="#m-ball" x="1396.1" y="429"/><use href="#m-ball" x="1372.7" y="439.7"/><use href="#m-ball" x="1349.5" y="451.3"/><use href="#m-ball" x="1326.9" y="465.5"/><use href="#m-ball" x="1304.6" y="481.9"/><use href="#m-ball" x="1282.9" y="500.8"/><use href="#m-ball" x="1262.5" y="527.2"/><use href="#m-ball" x="1243.7" y="561.6"/><use href="#m-ball" x="1225.6" y="599.7"/><use href="#m-ball" x="1208.9" y="644.7"/><use href="#m-ball" x="1193" y="694.2"/><use href="#m-ball" x="1177.2" y="744.2"/><use href="#m-ball" x="1161.4" y="794.1"/><use href="#m-ball" x="1145.4" y="843.3"/><use href="#m-ball" x="1129.1" y="890.4"/><use href="#m-ball" x="1111.7" y="932.1"/><use href="#m-ball" x="1093.5" y="970"/><use href="#m-ball" x="1074.7" y="1004"/><use href="#m-ball" x="1055" y="1033.7"/><use href="#m-ball" x="1034.7" y="1060.2"/><use href="#m-ball" x="1013.9" y="1084.2"/><use href="#m-ball" x="992.7" y="1106.2"/><use href="#m-ball" x="971.1" y="1126.3"/><use href="#m-ball" x="949.7" y="1146.7"/><use href="#m-ball" x="928.2" y="1167.4"/><use href="#m-ball" x="906.4" y="1185.8"/><use href="#m-ball" x="884.4" y="1203.8"/><use href="#m-ball" x="862.2" y="1220.3"/><use href="#m-ball" x="839.5" y="1234.6"/><use href="#m-ball" x="817.3" y="1251.2"/><use href="#m-ball" x="795.2" y="1267.9"/><use href="#m-ball" x="772.3" y="1281.1"/><use href="#m-ball" x="748.9" y="1291.7"/><use href="#m-ball" x="725.6" y="1302.5"/><use href="#m-ball" x="702.3" y="1313.4"/><use href="#m-ball" x="678.9" y="1323.7"/><use href="#m-ball" x="655.2" y="1332.8"/><use href="#m-ball" x="631.2" y="1340.2"/><use href="#m-ball" x="607.2" y="1347.1"/><use href="#m-ball" x="583" y="1353.7"/><use href="#m-ball" x="558.8" y="1359.7"/><use href="#m-ball" x="534.5" y="1365.3"/><use href="#m-ball" x="510" y="1370.2"/><use href="#m-ball" x="485.5" y="1374.6"/><use href="#m-ball" x="460.8" y="1378.2"/><use href="#m-ball" x="460.8" y="1378.3"/><use href="#m-ball" x="485.6" y="1375.4"/><use href="#m-ball" x="510.4" y="1372.2"/><use href="#m-ball" x="535.1" y="1368.8"/><use href="#m-ball" x="559.9" y="1365.5"/><use href="#m-ball" x="584.6" y="1362.1"/><use href="#m-ball" x="609.4" y="1358.7"/><use href="#m-ball" x="634.1" y="1355.1"/><use href="#m-ball" x="658.8" y="1351.2"/><use href="#m-ball" x="683.4" y="1347.1"/><use href="#m-ball" x="707.9" y="1342.8"/><use href="#m-ball" x="732.5" y="1338.4"/><use href="#m-ball" x="757" y="1333.8"/><use href="#m-ball" x="781.5" y="1328.8"/><use href="#m-ball" x="805.8" y="1323.6"/><use href="#m-ball" x="830.2" y="1317.9"/><use href="#m-ball" x="854.4" y="1311.8"/><use href="#m-ball" x="878.4" y="1304.8"/><use href="#m-ball" x="902.3" y="1296.8"/><use href="#m-ball" x="926.3" y="1289.7"/><use href="#m-ball" x="950.4" y="1282.9"/><use href="#m-ball" x="974.5" y="1276.2"/><use href="#m-ball" x="998.6" y="1269.3"/><use href="#m-ball" x="1022.6" y="1262.1"/><use href="#m-ball" x="1046.6" y="1254.8"/><use href="#m-ball" x="1070.6" y="1247.2"/><use href="#m-ball" x="1094.4" y="1239.4"/><use href="#m-ball" x="1118.2" y="1231"/><use href="#m-ball" x="1141.9" y="1222"/><use href="#m-ball" x="1165.5" y="1212.7"/><use href="#m-ball" x="1189.1" y="1203.4"/><use href="#m-ball" x="1212.8" y="1194.6"/><use href="#m-ball" x="1235.9" y="1182.5"/><use href="#m-ball" x="1259.1" y="1171.1"/><use href="#m-ball" x="1281.4" y="1154.8"/><use href="#m-ball" x="1303.6" y="1138.1"/><use href="#m-ball" x="1324.9" y="1116.7"/><use href="#m-ball" x="1344.4" y="1086.2"/><use href="#m-ball" x="1362.8" y="1049.5"/><use href="#m-ball" x="1380.6" y="1009.8"/><use href="#m-ball" x="1396.6" y="961"/><use href="#m-ball" x="1412.6" y="912.1"/><use href="#m-ball" x="1428.2" y="861.2"/><use href="#m-ball" x="1444.2" y="812.3"/><use href="#m-ball" x="1460.2" y="763.1"/><use href="#m-ball" x="1477" y="718.2"/><use href="#m-ball" x="1494.8" y="678.9"/><use href="#m-ball" x="1513.1" y="641.9"/><use href="#m-ball" x="1532.5" y="610.5"/><use href="#m-ball" x="1552.4" y="581.9"/><use href="#m-ball" x="1572.9" y="556.7"/><use href="#m-ball" x="1593.9" y="533.5"/><use href="#m-ball" x="1615.3" y="512.5"/><use href="#m-ball" x="1636.8" y="492.6"/><use href="#m-ball" x="1658.2" y="471.8"/><use href="#m-ball" x="1679.8" y="451.7"/><use href="#m-ball" x="1701.9" y="434.4"/><use href="#m-ball" x="1723.7" y="415.9"/><use href="#m-ball" x="1746.3" y="401.2"/><use href="#m-ball" x="1768.8" y="386.1"/><use href="#m-ball" x="1790.9" y="368.9"/><use href="#m-ball" x="1813.3" y="353.4"/><use href="#m-ball" x="1836.5" y="341.8"/><use href="#m-ball" x="1859.9" y="331.3"/><use href="#m-ball" x="1883.2" y="320.3"/><use href="#m-ball" x="1906.5" y="309.6"/><use href="#m-ball" x="1930" y="299.8"/><use href="#m-ball" x="1953.8" y="291.5"/><use href="#m-ball" x="1977.8" y="284.3"/><use href="#m-ball" x="2001.9" y="277.6"/><use href="#m-ball" x="2026.1" y="271.2"/><use href="#m-ball" x="2050.4" y="265.4"/><use href="#m-ball" x="2074.8" y="260.1"/><use href="#m-ball" x="2099.3" y="255.4"/><use href="#m-ball" x="2123.9" y="251.4"/>
</g>
<g id="s9">
<path d="M1450 371.4L1447.2 372.6M1426.6 381.3L1423.7 382.5M1403 391.3L1400.2 392.5M1379.6 401.3L1376.7 402.6M1356.7 412.7L1353.3 414.6M1334.3 426.4L1330.4 429M1312.4 442.4L1307.8 446.2M1291.7 461.7L1285.7 468.5M1272.3 486.3L1264.7 498.2M1254.7 518.1L1245.8 540.6M1238.5 561.8L1229.4 592.2M1223.8 613.9L1215 652.7M1210.3 674.7L1201.7 717.1M1197.3 739.1L1188.7 781.8M1184.2 803.7L1175.6 845.3M1170.6 867.2L1161.6 902.7M1156 924.4L1147 957.7M1140.8 979.2L1131.7 1008.7M1124 1029.7L1115.3 1050.2M1105.9 1070.5L1097.6 1087.2M1086.7 1106.7L1079.1 1119.1M1066.5 1137.6L1059.7 1146.7M1045.5 1163.9L1039.5 1170.5M1023.8 1186.5L1018.7 1191.3M1001.9 1206.1L997.2 1210M979.6 1223.8L975.3 1227M957.1 1240L953.2 1242.8M934.5 1255.1L930.7 1257.5M911.8 1269.5L908.1 1271.9M889.2 1283.9L885.5 1286.3M866.2 1297.7L862.9 1299.5M842.8 1309.4L839.9 1310.8M819.5 1320.1L816.5 1321.5M796.1 1330.7L793.2 1332M1158.3 1250.1L1161.4 1248.7M1205.4 1230.1L1208.3 1228.8M1228.7 1219.6L1231.7 1218.3M1251.3 1207.5L1255.1 1205M1273.7 1192.5L1277.7 1189.8M1294.8 1175.5L1300.3 1170M1315.5 1153.6L1321.7 1146.3M1333.9 1127.7L1342.3 1110.7M1350.9 1090L1359.9 1064.2M1366.5 1042.8L1375.5 1009M1380.6 987.2L1389.2 945.5M1393.7 923.5L1402.4 881.4M1406.8 859.4L1415.4 816.6M1420 794.7L1428.7 754.8M1434.1 733.1L1443.1 700.6M1448.9 678.9L1457.9 644.5M1464.6 623.2L1473.6 598.7M1482.1 578L1490.6 559.2M1500.6 539.2L1508.7 524.2M1520.3 505.1L1527.5 494.3M1540.9 476.3L1547.3 468.4M1562.1 451.7L1567.7 445.9M1583.9 430.5L1588.9 426.1M1606 411.8L1610.5 408.2M1628.4 394.7L1632.5 391.8M1651 379L1654.8 376.4M1673.6 364.3L1677.3 361.9M1696.2 349.9L1700 347.5M1719 335.6L1722.6 333.4M1742.2 322.6L1745.3 321.1M1765.6 311.6L1768.5 310.3M1788.8 300.9L1791.9 299.4" stroke="#00ff00" stroke-width="7.4" fill="none"/>
<use href="#m-star" x="2139.2" y="218.7"/><use href="#m-star" x="2118.1" y="221.1"/><use href="#m-star" x="2093.2" y="223.9"/><use href="#m-star" x="2068.4" y="227"/><use href="#m-star" x="2043.7" y="230.3"/><use href="#m-star" x="2019" y="234.2"/><use href="#m-star" x="1994.4" y="238.5"/><use href="#m-star" x="1970" y="243.3"/><use href="#m-star" x="1945.7" y="249.2"/><use href="#m-star" x="1921.5" y="255.6"/><use href="#m-star" x="1897.2" y="261.1"/><use href="#m-star" x="1872.7" y="265.6"/><use href="#m-star" x="1848" y="269.5"/><use href="#m-star" x="1823.3" y="273.1"/><use href="#m-star" x="1798.6" y="276.6"/><use href="#m-star" x="1773.9" y="280.2"/><use href="#m-star" x="1749.2" y="284.3"/><use href="#m-star" x="1724.8" y="289.1"/><use href="#m-star" x="1700.5" y="294.8"/><use href="#m-star" x="1676.4" y="301.5"/><use href="#m-star" x="1652.3" y="308.7"/><use href="#m-star" x="1628.4" y="316.1"/><use href="#m-star" x="1604.4" y="323.3"/><use href="#m-star" x="1580.3" y="330.5"/><use href="#m-star" x="1556.4" y="337.9"/><use href="#m-star" x="1532.4" y="345.4"/><use href="#m-star" x="1508.4" y="352.8"/><use href="#m-star" x="1484.4" y="360.2"/><use href="#m-star" x="1460.4" y="367.2"/><use href="#m-star" x="1436.8" y="376.8"/><use href="#m-star" x="1413.4" y="387"/><use href="#m-star" x="1389.9" y="396.8"/><use href="#m-star" x="1366.5" y="407.1"/><use href="#m-star" x="1343.6" y="420.2"/><use href="#m-star" x="1321.1" y="435.3"/><use href="#m-star" x="1299.1" y="453.4"/><use href="#m-star" x="1278.2" y="476.8"/><use href="#m-star" x="1258.8" y="507.6"/><use href="#m-star" x="1241.7" y="551"/><use href="#m-star" x="1226.3" y="602.9"/><use href="#m-star" x="1212.5" y="663.7"/><use href="#m-star" x="1199.5" y="728.1"/><use href="#m-star" x="1186.5" y="792.8"/><use href="#m-star" x="1173.3" y="856.3"/><use href="#m-star" x="1158.9" y="913.5"/><use href="#m-star" x="1144" y="968.5"/><use href="#m-star" x="1128.4" y="1019.4"/><use href="#m-star" x="1110.9" y="1060.5"/><use href="#m-star" x="1092.6" y="1097.2"/><use href="#m-star" x="1073.2" y="1128.7"/><use href="#m-star" x="1053" y="1155.6"/><use href="#m-star" x="1032" y="1178.8"/><use href="#m-star" x="1010.5" y="1198.9"/><use href="#m-star" x="988.6" y="1217.1"/><use href="#m-star" x="966.4" y="1233.7"/><use href="#m-star" x="943.9" y="1249.1"/><use href="#m-star" x="921.3" y="1263.5"/><use href="#m-star" x="898.7" y="1277.8"/><use href="#m-star" x="876" y="1292.3"/><use href="#m-star" x="853" y="1304.8"/><use href="#m-star" x="829.7" y="1315.4"/><use href="#m-star" x="806.3" y="1326.2"/><use href="#m-star" x="782.9" y="1336.6"/><use href="#m-star" x="759.2" y="1345"/><use href="#m-star" x="735.4" y="1353.4"/><use href="#m-star" x="711.5" y="1361.2"/><use href="#m-star" x="687.4" y="1368"/><use href="#m-star" x="663.2" y="1374.3"/><use href="#m-star" x="638.9" y="1380"/><use href="#m-star" x="614.5" y="1385.1"/><use href="#m-star" x="589.9" y="1389.6"/><use href="#m-star" x="565.3" y="1393.6"/><use href="#m-star" x="540.6" y="1397.1"/><use href="#m-star" x="515.8" y="1400.3"/><use href="#m-star" x="490.9" y="1403.2"/><use href="#m-star" x="466.1" y="1406"/><use href="#m-star" x="466.1" y="1406"/><use href="#m-star" x="490.9" y="1403.2"/><use href="#m-star" x="515.8" y="1400.3"/><use href="#m-star" x="540.6" y="1397.1"/><use href="#m-star" x="565.3" y="1393.6"/><use href="#m-star" x="589.9" y="1389.6"/><use href="#m-star" x="614.5" y="1385"/><use href="#m-star" x="638.9" y="1379.9"/><use href="#m-star" x="663.1" y="1373.6"/><use href="#m-star" x="687.3" y="1367.4"/><use href="#m-star" x="711.7" y="1362.4"/><use href="#m-star" x="736.3" y="1358.2"/><use href="#m-star" x="761" y="1354.5"/><use href="#m-star" x="785.7" y="1351"/><use href="#m-star" x="810.4" y="1347.4"/><use href="#m-star" x="835.1" y="1343.6"/><use href="#m-star" x="859.6" y="1339.3"/><use href="#m-star" x="884.1" y="1334.1"/><use href="#m-star" x="908.3" y="1327.9"/><use href="#m-star" x="932.3" y="1321"/><use href="#m-star" x="956.3" y="1313.7"/><use href="#m-star" x="980.3" y="1306.3"/><use href="#m-star" x="1004.3" y="1299.1"/><use href="#m-star" x="1028.3" y="1291.9"/><use href="#m-star" x="1052.3" y="1284.5"/><use href="#m-star" x="1076.3" y="1277"/><use href="#m-star" x="1100.2" y="1269.5"/><use href="#m-star" x="1124.3" y="1262.3"/><use href="#m-star" x="1148.2" y="1254.9"/><use href="#m-star" x="1171.5" y="1243.8"/><use href="#m-star" x="1195.2" y="1234.7"/><use href="#m-star" x="1218.5" y="1224.2"/><use href="#m-star" x="1241.9" y="1213.7"/><use href="#m-star" x="1264.5" y="1198.8"/><use href="#m-star" x="1286.9" y="1183.4"/><use href="#m-star" x="1308.2" y="1162.1"/><use href="#m-star" x="1328.9" y="1137.8"/><use href="#m-star" x="1347.2" y="1100.6"/><use href="#m-star" x="1363.6" y="1053.7"/><use href="#m-star" x="1378.3" y="998.2"/><use href="#m-star" x="1391.5" y="934.5"/><use href="#m-star" x="1404.6" y="870.4"/><use href="#m-star" x="1417.5" y="805.6"/><use href="#m-star" x="1431.1" y="743.9"/><use href="#m-star" x="1446.1" y="689.8"/><use href="#m-star" x="1460.7" y="633.7"/><use href="#m-star" x="1477.4" y="588.2"/><use href="#m-star" x="1495.3" y="549.1"/><use href="#m-star" x="1514" y="514.4"/><use href="#m-star" x="1533.8" y="485"/><use href="#m-star" x="1554.3" y="459.7"/><use href="#m-star" x="1575.6" y="437.9"/><use href="#m-star" x="1597.3" y="418.7"/><use href="#m-star" x="1619.3" y="401.2"/><use href="#m-star" x="1641.6" y="385.2"/><use href="#m-star" x="1664.2" y="370.2"/><use href="#m-star" x="1686.8" y="356"/><use href="#m-star" x="1709.4" y="341.5"/><use href="#m-star" x="1732.2" y="327.6"/><use href="#m-star" x="1755.4" y="316.1"/><use href="#m-star" x="1778.8" y="305.8"/><use href="#m-star" x="1802" y="294.5"/><use href="#m-star" x="1825.6" y="285.3"/><use href="#m-star" x="1849.5" y="277.1"/><use href="#m-star" x="1873.2" y="268.6"/><use href="#m-star" x="1897.2" y="261.4"/><use href="#m-star" x="1921.4" y="254.7"/><use href="#m-star" x="1945.6" y="248.7"/><use href="#m-star" x="1970" y="243.3"/><use href="#m-star" x="1994.4" y="238.5"/><use href="#m-star" x="2019" y="234.2"/><use href="#m-star" x="2043.7" y="230.3"/><use href="#m-star" x="2068.4" y="227"/><use href="#m-star" x="2093.2" y="223.9"/><use href="#m-star" x="2118.1" y="221.1"/>
</g>
<g id="s12">
<path d="M1423.8 367.2L1421 368.4M1376.7 385.9L1373.7 387.3M1353.9 397.7L1350.4 399.9M1331.9 412.5L1327.5 415.8M1310 429.8L1305.3 433.6M1289.5 449.4L1283.3 456.9M1270 474.9L1262.6 486.4M1253.5 506.7L1244.5 539.5M1239.6 561.4L1231.3 607.7M1227.8 629.9L1220.5 686.5M1217.3 708.6L1209.3 758.8M1205.6 780.9L1197.5 829.2M1193.8 851.3L1185.7 900.5M1181.6 922.5L1173 964M1167.8 985.8L1158.8 1019.1M1152.2 1040.6L1143.2 1066.8M1135.3 1087.8L1126.5 1109M1117 1129.2L1108.8 1144.6M1097.4 1163.8L1090 1175.1M1076.4 1192.8L1070.5 1199.5M1054.5 1215.2L1049.7 1219.4M1032.2 1233.3L1028 1236.3M1009.6 1249L1005.7 1251.5M986.7 1263.3L983.2 1265.3M963.6 1276.2L960.3 1277.9M940.7 1288.6L937.3 1290.5M917.8 1301.4L914.4 1303.3M894.7 1314.1L891.4 1315.9M871.4 1325.8L868.4 1327.2M847.9 1336.3L845.1 1337.5M1185.1 1256.3L1187.9 1255.1M1231.9 1237L1235.2 1235.3M1254.4 1223.8L1258.3 1221.2M1276.3 1208L1280.8 1204.3M1297.7 1189.5L1302.9 1184.7M1317.6 1167.9L1324.6 1158.3M1336.3 1139.3L1344.5 1123.7M1351.8 1102.8L1360.3 1058.2M1364.2 1036.1L1372.4 987.9M1375.6 965.7L1382.7 907M1386.1 884.9L1394.5 839.5M1398.3 817.4L1406.2 766.5M1409.9 744.4L1418.2 698.1M1422.8 676.1L1431.6 638.7M1437.4 617.1L1446.5 586.7M1453.6 565.5L1462.5 541.7M1471.1 521L1479.7 502.4M1490 482.5L1497.8 469.1M1510.1 450.4L1517 441.1M1531.6 424.3L1537 419M1553.8 404.1L1558.3 400.6M1576.3 387.3L1580.3 384.5M1599 372.2L1602.7 369.9M1622 358.6L1625.3 356.7M1645 346L1648.3 344.2M1667.9 333.4L1671.3 331.5M1690.9 320.6L1694.2 318.7M1714 308.2L1717.2 306.6M1737.4 297.1L1740.3 295.8M1761 287.1L1763.8 285.9" stroke="#ff0000" stroke-width="6.4" fill="none"/>
<use href="#m-circ" x="2136.6" y="204.9"/><use href="#m-circ" x="2115.5" y="207.7"/><use href="#m-circ" x="2090.8" y="211.1"/><use href="#m-circ" x="2066.1" y="214.8"/><use href="#m-circ" x="2041.4" y="218.6"/><use href="#m-circ" x="2016.8" y="222.7"/><use href="#m-circ" x="1992.2" y="227.1"/><use href="#m-circ" x="1967.7" y="231.6"/><use href="#m-circ" x="1943.2" y="236"/><use href="#m-circ" x="1918.6" y="240.4"/><use href="#m-circ" x="1894" y="244.4"/><use href="#m-circ" x="1869.3" y="248.1"/><use href="#m-circ" x="1844.6" y="251.6"/><use href="#m-circ" x="1819.9" y="255.2"/><use href="#m-circ" x="1795.2" y="258.9"/><use href="#m-circ" x="1770.5" y="262.9"/><use href="#m-circ" x="1746" y="267.4"/><use href="#m-circ" x="1721.6" y="272.4"/><use href="#m-circ" x="1697.3" y="278.4"/><use href="#m-circ" x="1673.3" y="285.5"/><use href="#m-circ" x="1649.4" y="293.2"/><use href="#m-circ" x="1625.5" y="301"/><use href="#m-circ" x="1601.5" y="308.6"/><use href="#m-circ" x="1577.5" y="316"/><use href="#m-circ" x="1553.6" y="323.4"/><use href="#m-circ" x="1529.6" y="330.9"/><use href="#m-circ" x="1505.7" y="338.6"/><use href="#m-circ" x="1481.8" y="346.5"/><use href="#m-circ" x="1457.9" y="354.5"/><use href="#m-circ" x="1434.2" y="362.9"/><use href="#m-circ" x="1410.6" y="372.7"/><use href="#m-circ" x="1386.9" y="381.3"/><use href="#m-circ" x="1363.5" y="391.9"/><use href="#m-circ" x="1340.8" y="405.7"/><use href="#m-circ" x="1318.6" y="422.6"/><use href="#m-circ" x="1296.7" y="440.8"/><use href="#m-circ" x="1276.1" y="465.4"/><use href="#m-circ" x="1256.5" y="495.9"/><use href="#m-circ" x="1241.6" y="550.3"/><use href="#m-circ" x="1229.3" y="618.8"/><use href="#m-circ" x="1219" y="697.6"/><use href="#m-circ" x="1207.5" y="769.9"/><use href="#m-circ" x="1195.6" y="840.2"/><use href="#m-circ" x="1183.9" y="911.6"/><use href="#m-circ" x="1170.7" y="975"/><use href="#m-circ" x="1155.8" y="1030"/><use href="#m-circ" x="1139.6" y="1077.4"/><use href="#m-circ" x="1122.2" y="1119.3"/><use href="#m-circ" x="1103.6" y="1154.5"/><use href="#m-circ" x="1083.9" y="1184.5"/><use href="#m-circ" x="1063" y="1207.9"/><use href="#m-circ" x="1041.2" y="1226.7"/><use href="#m-circ" x="1018.9" y="1242.8"/><use href="#m-circ" x="996.4" y="1257.7"/><use href="#m-circ" x="973.5" y="1270.9"/><use href="#m-circ" x="950.5" y="1283.2"/><use href="#m-circ" x="927.5" y="1295.9"/><use href="#m-circ" x="904.6" y="1308.8"/><use href="#m-circ" x="881.6" y="1321.1"/><use href="#m-circ" x="858.2" y="1332"/><use href="#m-circ" x="834.7" y="1341.8"/><use href="#m-circ" x="811.1" y="1350.8"/><use href="#m-circ" x="787.2" y="1358.8"/><use href="#m-circ" x="763.2" y="1366.2"/><use href="#m-circ" x="739.1" y="1373"/><use href="#m-circ" x="714.9" y="1379.3"/><use href="#m-circ" x="690.6" y="1384.9"/><use href="#m-circ" x="666.2" y="1389.8"/><use href="#m-circ" x="641.6" y="1394.1"/><use href="#m-circ" x="617" y="1398.6"/><use href="#m-circ" x="592.5" y="1403"/><use href="#m-circ" x="567.9" y="1407.3"/><use href="#m-circ" x="543.3" y="1411.2"/><use href="#m-circ" x="518.6" y="1414.9"/><use href="#m-circ" x="493.9" y="1418.5"/><use href="#m-circ" x="469.1" y="1421.8"/><use href="#m-circ" x="469.1" y="1421.8"/><use href="#m-circ" x="493.9" y="1418.5"/><use href="#m-circ" x="518.6" y="1414.9"/><use href="#m-circ" x="543.3" y="1411.2"/><use href="#m-circ" x="567.9" y="1407.3"/><use href="#m-circ" x="592.5" y="1403"/><use href="#m-circ" x="617" y="1398.6"/><use href="#m-circ" x="641.6" y="1394.1"/><use href="#m-circ" x="666.1" y="1389.7"/><use href="#m-circ" x="690.7" y="1385.5"/><use href="#m-circ" x="715.4" y="1381.6"/><use href="#m-circ" x="740.1" y="1378"/><use href="#m-circ" x="764.8" y="1374.4"/><use href="#m-circ" x="789.5" y="1370.8"/><use href="#m-circ" x="814.2" y="1367"/><use href="#m-circ" x="838.8" y="1362.8"/><use href="#m-circ" x="863.3" y="1358.1"/><use href="#m-circ" x="887.6" y="1352.7"/><use href="#m-circ" x="911.8" y="1346.2"/><use href="#m-circ" x="935.7" y="1338.8"/><use href="#m-circ" x="959.7" y="1331"/><use href="#m-circ" x="983.6" y="1323.2"/><use href="#m-circ" x="1007.5" y="1315.8"/><use href="#m-circ" x="1031.5" y="1308.4"/><use href="#m-circ" x="1055.5" y="1300.9"/><use href="#m-circ" x="1079.4" y="1293.4"/><use href="#m-circ" x="1103.3" y="1285.6"/><use href="#m-circ" x="1127.2" y="1277.7"/><use href="#m-circ" x="1151" y="1269.6"/><use href="#m-circ" x="1174.7" y="1260.7"/><use href="#m-circ" x="1198.2" y="1250.7"/><use href="#m-circ" x="1222" y="1242.3"/><use href="#m-circ" x="1245.1" y="1230.1"/><use href="#m-circ" x="1267.6" y="1215"/><use href="#m-circ" x="1289.5" y="1197.2"/><use href="#m-circ" x="1311.1" y="1177"/><use href="#m-circ" x="1331.1" y="1149.3"/><use href="#m-circ" x="1349.7" y="1113.8"/><use href="#m-circ" x="1362.3" y="1047.2"/><use href="#m-circ" x="1374.2" y="976.8"/><use href="#m-circ" x="1384.1" y="895.9"/><use href="#m-circ" x="1396.5" y="828.5"/><use href="#m-circ" x="1407.9" y="755.5"/><use href="#m-circ" x="1420.2" y="687"/><use href="#m-circ" x="1434.2" y="627.8"/><use href="#m-circ" x="1449.7" y="576"/><use href="#m-circ" x="1466.5" y="531.2"/><use href="#m-circ" x="1484.4" y="492.2"/><use href="#m-circ" x="1503.5" y="459.4"/><use href="#m-circ" x="1523.6" y="432.1"/><use href="#m-circ" x="1545" y="411.1"/><use href="#m-circ" x="1567" y="393.6"/><use href="#m-circ" x="1589.5" y="378.2"/><use href="#m-circ" x="1612.2" y="364"/><use href="#m-circ" x="1635.1" y="351.3"/><use href="#m-circ" x="1658.1" y="338.9"/><use href="#m-circ" x="1681.1" y="326"/><use href="#m-circ" x="1704" y="313.3"/><use href="#m-circ" x="1727.2" y="301.6"/><use href="#m-circ" x="1750.6" y="291.2"/><use href="#m-circ" x="1774.2" y="281.8"/><use href="#m-circ" x="1797.9" y="273.2"/><use href="#m-circ" x="1821.8" y="265.5"/><use href="#m-circ" x="1845.9" y="258.4"/><use href="#m-circ" x="1870" y="251.8"/><use href="#m-circ" x="1894.2" y="245.8"/><use href="#m-circ" x="1918.6" y="240.4"/><use href="#m-circ" x="1943.2" y="236"/><use href="#m-circ" x="1967.7" y="231.6"/><use href="#m-circ" x="1992.2" y="227.1"/><use href="#m-circ" x="2016.8" y="222.7"/><use href="#m-circ" x="2041.4" y="218.6"/><use href="#m-circ" x="2066.1" y="214.8"/><use href="#m-circ" x="2090.8" y="211.1"/><use href="#m-circ" x="2115.5" y="207.7"/>
</g>
</g>
<g id="legend">
<rect x="424.6" y="250.6" width="536" height="486.4" fill="#fff" stroke="#000" stroke-width="2.7"/>
<rect x="426" y="252" width="533" height="483.6" fill="url(#dither)"/>
<path d="M464.5 321.8H641" stroke="#800000" stroke-width="7.6" fill="none"/>
<use href="#m-sq" transform="translate(553.7 322.8) scale(0.86)"/>
<text transform="translate(658.4 349.7) scale(1.022 1)" font-size="74.5">Nit. 0 h</text>
<path d="M464.5 414H641" stroke="#0000ff" stroke-width="7.6" fill="none"/>
<path d="M546.8 419.6L553.6 405.6L560.6 419.6Z" fill="#fff"/><path d="M547.6 418L553.6 405.8L559.8 418" fill="none" stroke="#0000ff" stroke-width="1.5" stroke-dasharray="2.6 2.2"/>
<text transform="translate(658.4 441.5) scale(1.022 1)" font-size="74.5">Nit. 3 h</text>
<path d="M464.5 508.1H641" stroke="#ff8000" stroke-width="5.2" fill="none"/>
<use href="#m-ball" transform="translate(553.7 509.1) scale(0.86)"/>
<text transform="translate(658.4 534.3) scale(1.022 1)" font-size="74.5">Nit. 6 h</text>
<path d="M464.5 601.4H641" stroke="#00ff00" stroke-width="8.2" fill="none"/>
<use href="#m-star" transform="translate(553.7 601.4) scale(0.8)"/>
<text transform="translate(658.4 627.7) scale(1.022 1)" font-size="74.5">Nit. 9 h</text>
<path d="M464.5 693.9H641" stroke="#ff0000" stroke-width="7.6" fill="none"/>
<use href="#m-circ" transform="translate(553.7 693.9) scale(0.8)"/>
<text transform="translate(658.4 720.7) scale(1.022 1)" font-size="74.5">Nit. 12 h</text>
</g>
</g>
</svg></body></html>
